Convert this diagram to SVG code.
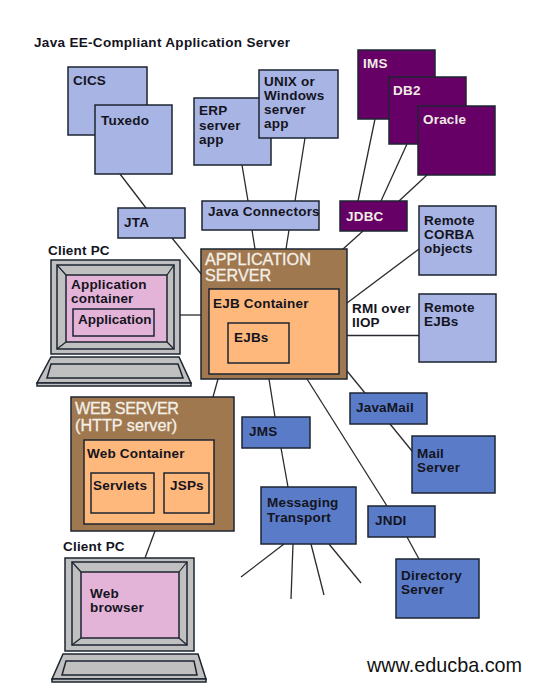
<svg xmlns="http://www.w3.org/2000/svg" width="536" height="695" viewBox="0 0 536 695">
<style>
text{font-family:"Liberation Sans",Arial,sans-serif;font-weight:bold;font-size:13.5px;letter-spacing:.2px;fill:#14141e}
.w{fill:#f0ece4}
.big{font-weight:normal;font-size:16.2px;letter-spacing:0;fill:#f4f0e8;stroke:#f4f0e8;stroke-width:.3}
rect,polygon{stroke:#1c2430;stroke-width:1.5}
.lb{fill:#a8b4e4}.pu{fill:#660066}.bl{fill:#5a7cc8}.br{fill:#a07850}.or{fill:#ffb87c}.pk{fill:#e4b4d8}.gr{fill:#c0c0c0}
#connectors line{stroke:#2a2a30;stroke-width:1.3}
.bevel line{stroke:#1c2430;stroke-width:1.2}
</style>
<rect width="536" height="695" fill="#ffffff" style="stroke:none"/>
<text id="title" x="34" y="47" style="letter-spacing:.32px">Java EE-Compliant Application Server</text>
<g id="connectors">
<line x1="120" y1="174" x2="146" y2="208"/>
<line x1="172" y1="238" x2="202" y2="275"/>
<line x1="242" y1="165" x2="248" y2="201"/>
<line x1="305" y1="138" x2="295" y2="201"/>
<line x1="252" y1="230" x2="255" y2="249"/>
<line x1="289" y1="230" x2="286" y2="249"/>
<line x1="375" y1="119" x2="358" y2="201"/>
<line x1="407" y1="144" x2="381" y2="201"/>
<line x1="427" y1="175" x2="399" y2="201"/>
<line x1="363" y1="231" x2="343" y2="249"/>
<line x1="419" y1="249" x2="347" y2="303"/>
<line x1="347" y1="335.5" x2="419" y2="335.5"/>
<line x1="347" y1="371" x2="365" y2="393"/>
<line x1="390" y1="424" x2="412" y2="451"/>
<line x1="269" y1="379" x2="275" y2="417"/>
<line x1="281" y1="448" x2="288" y2="487"/>
<line x1="307" y1="379" x2="387" y2="506"/>
<line x1="407" y1="537" x2="419" y2="559"/>
<line x1="284" y1="544" x2="241" y2="577"/>
<line x1="293" y1="544" x2="291" y2="599"/>
<line x1="311" y1="544" x2="324" y2="595"/>
<line x1="329" y1="544" x2="361" y2="583"/>
<line x1="218" y1="379" x2="213" y2="397"/>
<line x1="180" y1="315" x2="201" y2="315"/>
<line x1="155" y1="531" x2="145" y2="558"/>
</g>
<g id="cics"><rect class="lb" x="68" y="67" width="79" height="68"/><text x="73" y="85">CICS</text></g>
<g id="tuxedo"><rect class="lb" x="95" y="105" width="77" height="69"/><text x="101" y="125">Tuxedo</text></g>
<g id="erp"><rect class="lb" x="194" y="98" width="77" height="67"/><text x="199" y="115">ERP<tspan x="199" y="130">server</tspan><tspan x="199" y="144">app</tspan></text></g>
<g id="unix"><rect class="lb" x="259" y="70" width="79" height="68"/><text x="264" y="86">UNIX or<tspan x="264" y="100">Windows</tspan><tspan x="264" y="114">server</tspan><tspan x="264" y="128">app</tspan></text></g>
<g id="jta"><rect class="lb" x="118" y="208" width="67" height="30"/><text x="124" y="227">JTA</text></g>
<g id="java-connectors"><rect class="lb" x="202" y="201" width="117" height="29"/><text x="208" y="216">Java Connectors</text></g>
<g id="ims"><rect class="pu" x="358" y="50" width="77" height="69"/><text class="w" x="363" y="68">IMS</text></g>
<g id="db2"><rect class="pu" x="389" y="77" width="77" height="67"/><text class="w" x="393" y="95">DB2</text></g>
<g id="oracle"><rect class="pu" x="418" y="106" width="77" height="69"/><text class="w" x="423" y="124">Oracle</text></g>
<g id="jdbc"><rect class="pu" x="340" y="201" width="67" height="30"/><text class="w" x="346" y="221">JDBC</text></g>
<g id="corba"><rect class="lb" x="419" y="206" width="77" height="69"/><text x="424" y="225">Remote<tspan x="424" y="239">CORBA</tspan><tspan x="424" y="253">objects</tspan></text></g>
<g id="remote-ejbs"><rect class="lb" x="419" y="294" width="77" height="68"/><text x="424" y="312">Remote<tspan x="424" y="326">EJBs</tspan></text></g>
<g id="rmi"><text x="352" y="313">RMI over<tspan x="352" y="327">IIOP</tspan></text></g>
<g id="app-server"><rect class="br" x="201" y="249" width="146" height="130"/><text class="big" x="205" y="264.5">APPLICATION<tspan x="205" y="281">SERVER</tspan></text>
<rect class="or" x="209" y="289" width="130" height="85"/><text x="213" y="308">EJB Container</text>
<rect class="or" x="228" y="323" width="61" height="40"/><text x="234" y="342">EJBs</text></g>
<g id="javamail"><rect class="bl" x="350" y="393" width="77" height="31"/><text x="356" y="412">JavaMail</text></g>
<g id="mail"><rect class="bl" x="412" y="436" width="83" height="57"/><text x="417" y="458">Mail<tspan x="417" y="472">Server</tspan></text></g>
<g id="jms"><rect class="bl" x="242" y="417" width="68" height="31"/><text x="249" y="436">JMS</text></g>
<g id="messaging"><rect class="bl" x="261" y="487" width="95" height="57"/><text x="267" y="507">Messaging<tspan x="267" y="522">Transport</tspan></text></g>
<g id="jndi"><rect class="bl" x="368" y="506" width="67" height="31"/><text x="375" y="525">JNDI</text></g>
<g id="directory"><rect class="bl" x="396" y="559" width="83" height="59"/><text x="401" y="580">Directory<tspan x="401" y="594">Server</tspan></text></g>
<g id="web-server"><rect class="br" x="71" y="397" width="163" height="134"/><text class="big" x="75" y="414" style="letter-spacing:-.4px">WEB SERVER<tspan x="75" y="431" style="letter-spacing:0">(HTTP server)</tspan></text>
<rect class="or" x="84" y="440" width="130" height="84"/><text x="87" y="458">Web Container</text>
<rect class="or" x="91" y="473" width="63" height="40"/><text x="93" y="490">Servlets</text>
<rect class="or" x="164" y="473" width="45" height="40"/><text x="170" y="490">JSPs</text></g>
<g id="client-pc-1"><text x="48" y="255">Client PC</text>
<rect class="gr" x="51" y="260" width="129" height="94"/>
<rect class="gr" x="57" y="265" width="117" height="84"/>
<g class="bevel"><line x1="57" y1="265" x2="66" y2="275"/><line x1="174" y1="265" x2="167" y2="275"/><line x1="57" y1="349" x2="66" y2="342"/><line x1="174" y1="349" x2="167" y2="342"/></g>
<rect class="pk" x="66" y="275" width="101" height="67"/>
<text x="71" y="288.5">Application<tspan x="71" y="302.5">container</tspan></text>
<rect class="pk" x="73" y="309" width="81" height="27"/><text x="78" y="324" style="letter-spacing:0">Application</text>
<polygon class="gr" points="51,357 179,357 191,383 37,383"/>
<rect class="gr" x="37" y="383" width="154" height="3"/>
<polygon class="gr" points="51,364 178,364 183,378 47,378"/></g>
<g id="client-pc-2"><text x="63" y="551">Client PC</text>
<rect class="gr" x="65" y="558" width="129" height="93"/>
<rect class="gr" x="72" y="562" width="115" height="83"/>
<g class="bevel"><line x1="72" y1="562" x2="81" y2="572"/><line x1="187" y1="562" x2="179" y2="572"/><line x1="72" y1="645" x2="81" y2="638"/><line x1="187" y1="645" x2="179" y2="638"/></g>
<rect class="pk" x="81" y="572" width="98" height="66"/>
<text x="90" y="598">Web<tspan x="90" y="612">browser</tspan></text>
<polygon class="gr" points="63,654 198,654 206,679 52,679"/>
<rect class="gr" x="52" y="679" width="154" height="3"/>
<polygon class="gr" points="66,661 194,661 197,675 62,675"/></g>
<text id="watermark" x="367" y="672" style="font-weight:normal;font-size:19.8px;letter-spacing:0;fill:#111">www.educba.com</text>
</svg>
